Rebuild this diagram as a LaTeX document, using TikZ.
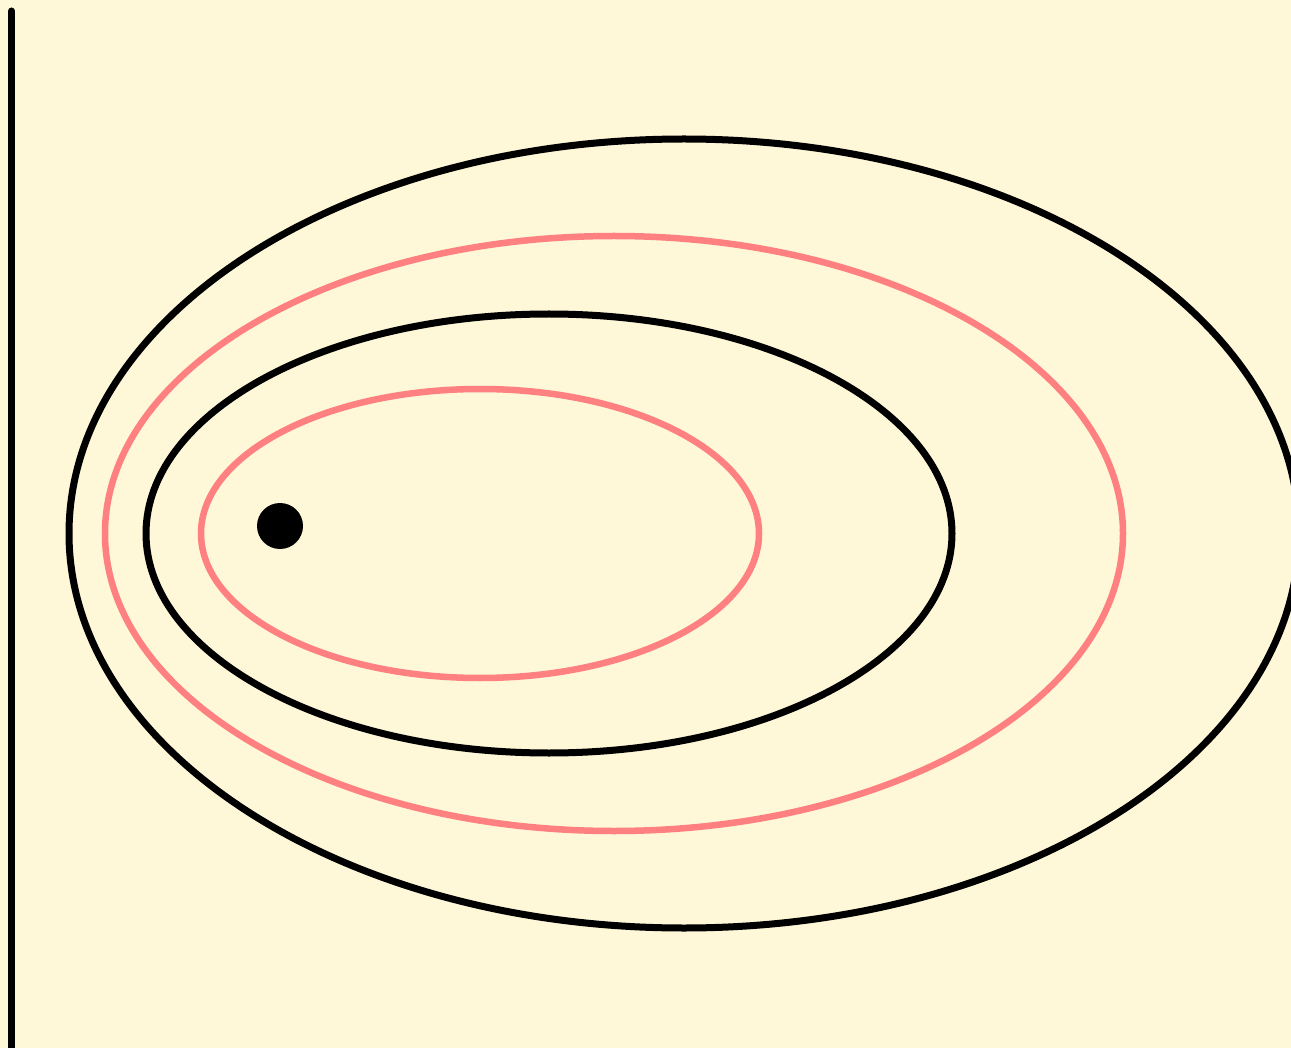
\documentclass[tikz,border=0pt]{standalone}
\begin{document}
\begin{tikzpicture}[x=1pt,y=-1pt,
  blackring/.style={draw=black,line width=7pt},
  pinkring/.style={draw=ringpink,line width=6.5pt}]
\definecolor{bgcream}{HTML}{FEF8D8}
\definecolor{ringpink}{HTML}{FF8080}
\path[fill=bgcream,use as bounding box] (0,0) rectangle (1291,1048);
\clip (0,0) rectangle (1291,1048);
\coordinate (ltop) at (11.5,11);
\coordinate (lbot) at (11.5,1060);
\draw[line width=7pt,line cap=round] (ltop) -- (lbot);
\draw[blackring] (684,533.5) ellipse [x radius=615, y radius=394.5];
\draw[pinkring] (614,533.5) ellipse [x radius=509, y radius=297.5];
\draw[blackring] (549,533.5) ellipse [x radius=403, y radius=219.5];
\draw[pinkring] (480,533.5) ellipse [x radius=279, y radius=144.5];
\fill (280,526) circle [radius=23];
\end{tikzpicture}
\end{document}
